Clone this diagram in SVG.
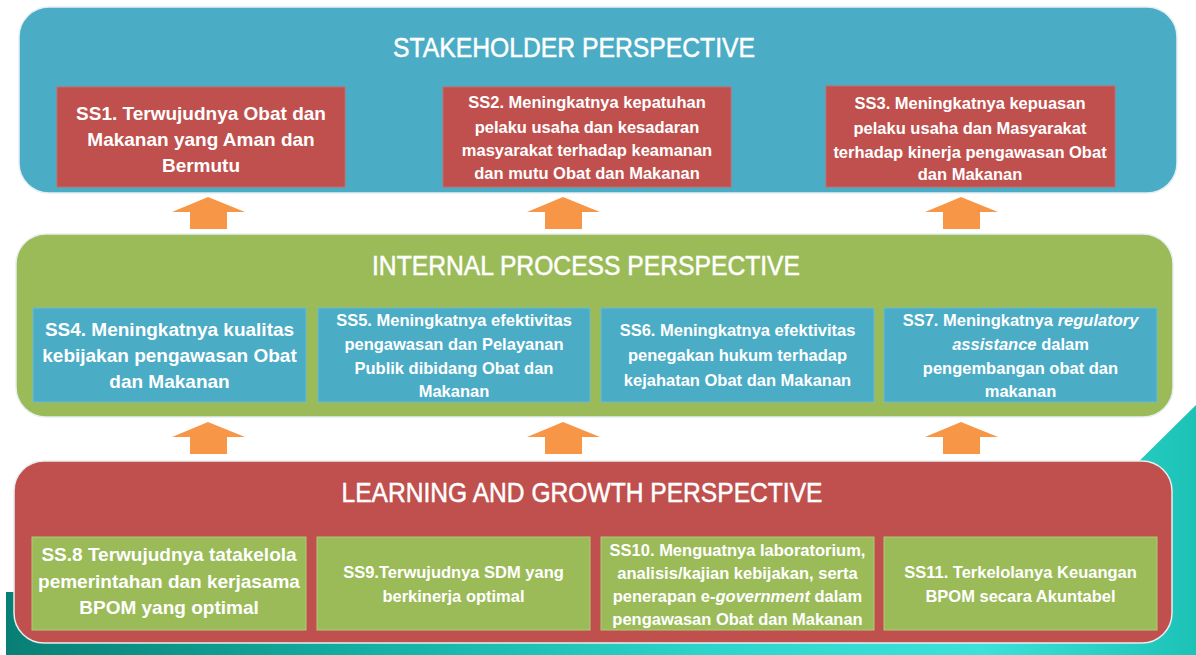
<svg xmlns="http://www.w3.org/2000/svg" width="1196" height="655" viewBox="0 0 1196 655">
<style>
.panel{stroke:#e6eef2;stroke-width:1.5}
.box{stroke-width:1}
.t{font-family:"Liberation Sans",Arial,sans-serif;fill:#ffffff;font-weight:bold;text-anchor:middle}
.title{font-size:28px;font-weight:normal;stroke:#ffffff;stroke-width:0.5}
.big{font-size:19px}
.sm{font-size:16.5px}
.arrow{fill:#F79646}
</style>
<defs>
<linearGradient id="bg" x1="0" y1="0" x2="1" y2="0">
<stop offset="0" stop-color="#087F74"/>
<stop offset="0.3" stop-color="#13AFA2"/>
<stop offset="0.6" stop-color="#2DD6CC"/>
<stop offset="0.82" stop-color="#3CE2D9"/>
<stop offset="1" stop-color="#1CC2B6"/>
</linearGradient>
<path id="arr" d="M0,0 L37,15 L19,15 L19,32 L-18,32 L-18,15 L-36,15 Z"/>
</defs>
<rect width="1196" height="655" fill="#ffffff"/>
<polygon points="6,592 1120,592 1120,480 1196,405 1196,655 6,655" fill="url(#bg)"/>

<g id="stakeholder">
<rect class="panel" x="19" y="7" width="1158" height="186" rx="30" fill="#4BACC6"/>
<text class="t title" x="574" y="57" textLength="362" lengthAdjust="spacingAndGlyphs">STAKEHOLDER PERSPECTIVE</text>
</g>
<g id="ss1">
<rect class="box" x="57" y="87" width="288" height="100" fill="#C0504D" stroke="#c86a67"/>
<text class="t big"><tspan x="201" y="120">SS1. Terwujudnya Obat dan</tspan><tspan x="201" y="146">Makanan yang Aman dan</tspan><tspan x="201" y="172">Bermutu</tspan></text>
</g>
<g id="ss2">
<rect class="box" x="443" y="87" width="288" height="100" fill="#C0504D" stroke="#c86a67"/>
<text class="t sm"><tspan x="587" y="108">SS2. Meningkatnya kepatuhan</tspan><tspan x="587" y="133">pelaku usaha dan kesadaran</tspan><tspan x="587" y="156">masyarakat terhadap keamanan</tspan><tspan x="587" y="179">dan mutu Obat dan Makanan</tspan></text>
</g>
<g id="ss3">
<rect class="box" x="826" y="86" width="289" height="101" fill="#C0504D" stroke="#c86a67"/>
<text class="t sm"><tspan x="970" y="109">SS3. Meningkatnya kepuasan</tspan><tspan x="970" y="134">pelaku usaha dan Masyarakat</tspan><tspan x="970" y="158">terhadap kinerja pengawasan Obat</tspan><tspan x="970" y="180">dan Makanan</tspan></text>
</g>

<g id="internal">
<rect class="panel" x="16" y="234" width="1157" height="183" rx="30" fill="#9BBB59"/>
<text class="t title" x="586" y="275" textLength="428" lengthAdjust="spacingAndGlyphs">INTERNAL PROCESS PERSPECTIVE</text>
</g>
<g id="ss4">
<rect class="box" x="33" y="308" width="273" height="94" fill="#4BACC6" stroke="#6cbccf"/>
<text class="t big"><tspan x="169.5" y="336">SS4. Meningkatnya kualitas</tspan><tspan x="169.5" y="362">kebijakan  pengawasan Obat</tspan><tspan x="169.5" y="388">dan Makanan</tspan></text>
</g>
<g id="ss5">
<rect class="box" x="318" y="308" width="272" height="94" fill="#4BACC6" stroke="#6cbccf"/>
<text class="t sm"><tspan x="454" y="326">SS5. Meningkatnya  efektivitas</tspan><tspan x="454" y="350">pengawasan dan Pelayanan</tspan><tspan x="454" y="374">Publik dibidang Obat  dan</tspan><tspan x="454" y="397">Makanan</tspan></text>
</g>
<g id="ss6">
<rect class="box" x="601" y="308" width="273" height="94" fill="#4BACC6" stroke="#6cbccf"/>
<text class="t sm"><tspan x="737.5" y="336">SS6. Meningkatnya  efektivitas</tspan><tspan x="737.5" y="361">penegakan hukum terhadap</tspan><tspan x="737.5" y="386">kejahatan Obat dan  Makanan</tspan></text>
</g>
<g id="ss7">
<rect class="box" x="884" y="308" width="273" height="94" fill="#4BACC6" stroke="#6cbccf"/>
<text class="t sm"><tspan x="1020.5" y="326">SS7. Meningkatnya <tspan font-style="italic">regulatory</tspan></tspan><tspan x="1020.5" y="350"><tspan font-style="italic">assistance</tspan> dalam</tspan><tspan x="1020.5" y="374">pengembangan obat dan</tspan><tspan x="1020.5" y="397">makanan</tspan></text>
</g>

<g id="learning">
<rect class="panel" x="14" y="461" width="1158" height="182" rx="30" fill="#C0504D"/>
<text class="t title" x="582" y="502" textLength="481" lengthAdjust="spacingAndGlyphs">LEARNING AND GROWTH PERSPECTIVE</text>
</g>
<g id="ss8">
<rect class="box" x="32" y="537" width="274" height="93" fill="#9BBB59" stroke="#b0c97a"/>
<text class="t big"><tspan x="169" y="561">SS.8 Terwujudnya tatakelola</tspan><tspan x="169" y="588">pemerintahan dan kerjasama</tspan><tspan x="169" y="614">BPOM yang optimal</tspan></text>
</g>
<g id="ss9">
<rect class="box" x="317" y="537" width="273" height="93" fill="#9BBB59" stroke="#b0c97a"/>
<text class="t sm"><tspan x="453.5" y="578">SS9.Terwujudnya SDM yang</tspan><tspan x="453.5" y="602">berkinerja optimal</tspan></text>
</g>
<g id="ss10">
<rect class="box" x="601" y="537" width="273" height="93" fill="#9BBB59" stroke="#b0c97a"/>
<text class="t sm"><tspan x="737.5" y="556">SS10. Menguatnya laboratorium,</tspan><tspan x="737.5" y="579">analisis/kajian kebijakan, serta</tspan><tspan x="737.5" y="602">penerapan e-<tspan font-style="italic">government</tspan> dalam</tspan><tspan x="737.5" y="625">pengawasan Obat dan Makanan</tspan></text>
</g>
<g id="ss11">
<rect class="box" x="884" y="537" width="273" height="93" fill="#9BBB59" stroke="#b0c97a"/>
<text class="t sm"><tspan x="1020.5" y="578">SS11. Terkelolanya Keuangan</tspan><tspan x="1020.5" y="602">BPOM secara Akuntabel</tspan></text>
</g>

<g id="connectors">
<use href="#arr" class="arrow" x="208" y="197"/>
<use href="#arr" class="arrow" x="563" y="197"/>
<use href="#arr" class="arrow" x="961" y="197"/>
<use href="#arr" class="arrow" x="208" y="422"/>
<use href="#arr" class="arrow" x="563" y="422"/>
<use href="#arr" class="arrow" x="961" y="422"/>
</g>
</svg>
